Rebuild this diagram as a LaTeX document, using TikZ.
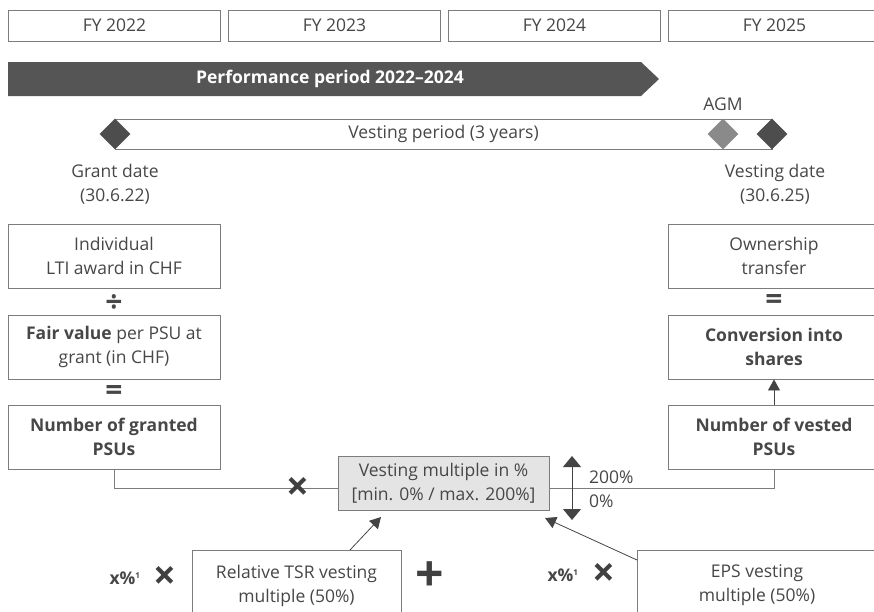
\documentclass[tikz,border=0pt]{standalone}
\usepackage{fontspec}
\setmainfont{Open Sans}
\usetikzlibrary{shapes.geometric,arrows.meta}
\definecolor{txt}{HTML}{474747}
\definecolor{boxline}{HTML}{7C7C7C}
\definecolor{darkband}{HTML}{555555}
\definecolor{darkdia}{HTML}{4D4D4D}
\definecolor{greydia}{HTML}{8A8A8A}
\definecolor{multfill}{HTML}{E3E4E3}
\definecolor{arrowgray}{HTML}{444444}
\newcommand{\mainsz}{\fontsize{17.5}{24}\selectfont}
\newcommand{\eqsz}{\fontsize{30}{30}\selectfont\bfseries}
\newcommand{\timessz}{\fontsize{40}{40}\selectfont\bfseries}
\newcommand{\plussz}{\fontsize{50}{50}\selectfont\bfseries}
\tikzset{
  x=1pt, y=-1pt,
  plainbox/.style={draw=boxline, line width=0.9pt, fill=white, minimum width=212pt,
    minimum height=64pt, align=center, inner sep=0pt, text=txt, font=\mainsz},
  fybox/.style={plainbox, minimum height=31pt},
  label/.style={text=txt, font=\mainsz, align=center, inner sep=0pt},
  symb/.style={text=txt, font=\eqsz, inner sep=0pt},
  bigsymb/.style={text=txt!90!black, font=\timessz, inner sep=0pt},
  plussymb/.style={text=txt!90!black, font=\plussz, inner sep=0pt},
  dia/.style={diamond, aspect=1, minimum width=31pt, minimum height=31pt, inner sep=0pt},
  conn/.style={draw=boxline, line width=0.9pt},
  arr/.style={draw=arrowgray, line width=0.8pt, -{Triangle[width=12pt,length=11pt]}},
}
\begin{document}
\begin{tikzpicture}
\useasboundingbox (0,0) rectangle (874,611);
\clip (0,0) rectangle (874,611);
% FY row
\node[fybox] (fy1) at (114.5,25.5) {FY 2022};
\node[fybox] (fy2) at (334.5,25.5) {FY 2023};
\node[fybox] (fy3) at (554.5,25.5) {FY 2024};
\node[fybox] (fy4) at (774.5,25.5) {FY 2025};
% performance band
\fill[darkband] (8,62) -- (641,62) -- (659,79) -- (641,96) -- (8,96) -- cycle;
\node[font=\mainsz\bfseries, text=white, inner sep=0pt] (perf) at (330,79) {Performance period 2022–2024};
% AGM
\node[label] (agm) at (723,104) {AGM};
% vesting bar
\node[draw=boxline, line width=0.9pt, minimum width=657pt, minimum height=30pt, inner sep=0pt, label] (bar) at (443.5,134) {Vesting period (3 years)};
\node[dia, fill=darkdia] (d1) at (115,134) {};
\node[dia, fill=greydia] (d2) at (723,134) {};
\node[dia, fill=darkdia] (d3) at (772,134) {};
\node[label] (grant) at (115,184) {Grant date\\(30.6.22)};
\node[label] (vdate) at (775,184) {Vesting date\\(30.6.25)};
% left column
\node[plainbox] (lti) at (114,256) {Individual\\LTI award in CHF};
\node[symb] (div) at (114,304) {÷};
\node[plainbox] (fair) at (114,347) {\textbf{Fair value} per PSU at\\grant (in CHF)};
\node[symb] (eq1) at (114,393) {=};
\node[plainbox, font=\mainsz\bfseries] (granted) at (114,437) {Number of granted\\PSUs};
% right column
\node[plainbox] (own) at (774,256) {Ownership\\transfer};
\node[symb] (eq2) at (774,302) {=};
\node[plainbox, font=\mainsz\bfseries] (conv) at (774,347) {Conversion into\\shares};
\node[plainbox, font=\mainsz\bfseries] (vested) at (774,437) {Number of vested\\PSUs};
\draw[arr] (vested.north) -- (conv.south);
% vesting multiple
\node[plainbox, fill=multfill, draw=boxline, minimum width=211pt, minimum height=54pt] (mult) at (443.5,483) {Vesting multiple in \%\\{[}min. 0\% / max. 200\%{]}};
\coordinate (gl) at (114,488);
\coordinate (gr) at (774,488);
\draw[conn] (granted.south) -- (gl) -- (mult.west |- gl);
\draw[conn] (mult.east |- gr) -- (gr) -- (vested.south);
\node[bigsymb] (times1) at (298,489) {×};
% range arrow
\coordinate (rtop) at (572,456);
\coordinate (rbot) at (572,520);
\draw[draw=boxline, line width=0.9pt, {Triangle[width=18pt,length=11pt]}-{Triangle[width=18pt,length=11pt]}, arrowgray] (rtop) -- (rbot);
\node[label, anchor=west] (p200) at (589,477) {200\%};
\node[label, anchor=west] (p0) at (589,501) {0\%};
% bottom boxes
\node[plainbox, minimum width=209pt, minimum height=80pt, anchor=north west] (tsr) at (192,550) {};
\node[label] (tsrtxt) at (296.5,585.5) {Relative TSR vesting\\multiple (50\%)};
\node[plainbox, minimum width=260pt, minimum height=80pt, anchor=north west] (eps) at (637,550) {};
\node[label] (epstxt) at (757,585.5) {EPS vesting\\multiple (50\%)};
\node[text=txt, font=\mainsz\bfseries, inner sep=0pt] (x1) at (125,578) {x\%\textsuperscript{\fontsize{8}{8}\selectfont 1}};
\node[bigsymb] (times2) at (165,578) {×};
\node[plussymb] (plus) at (430,577) {+};
\node[text=txt, font=\mainsz\bfseries, inner sep=0pt] (x2) at (563,575) {x\%\textsuperscript{\fontsize{8}{8}\selectfont 1}};
\node[bigsymb] (times3) at (604,575) {×};
\coordinate (tsrtail) at (350,550);
\coordinate (tsrtip) at (381,517);
\coordinate (epstail) at (637,560);
\coordinate (epstip) at (545,518);
\draw[arr] (tsrtail) -- (tsrtip);
\draw[arr] (epstail) -- (epstip);
\end{tikzpicture}
\end{document}
